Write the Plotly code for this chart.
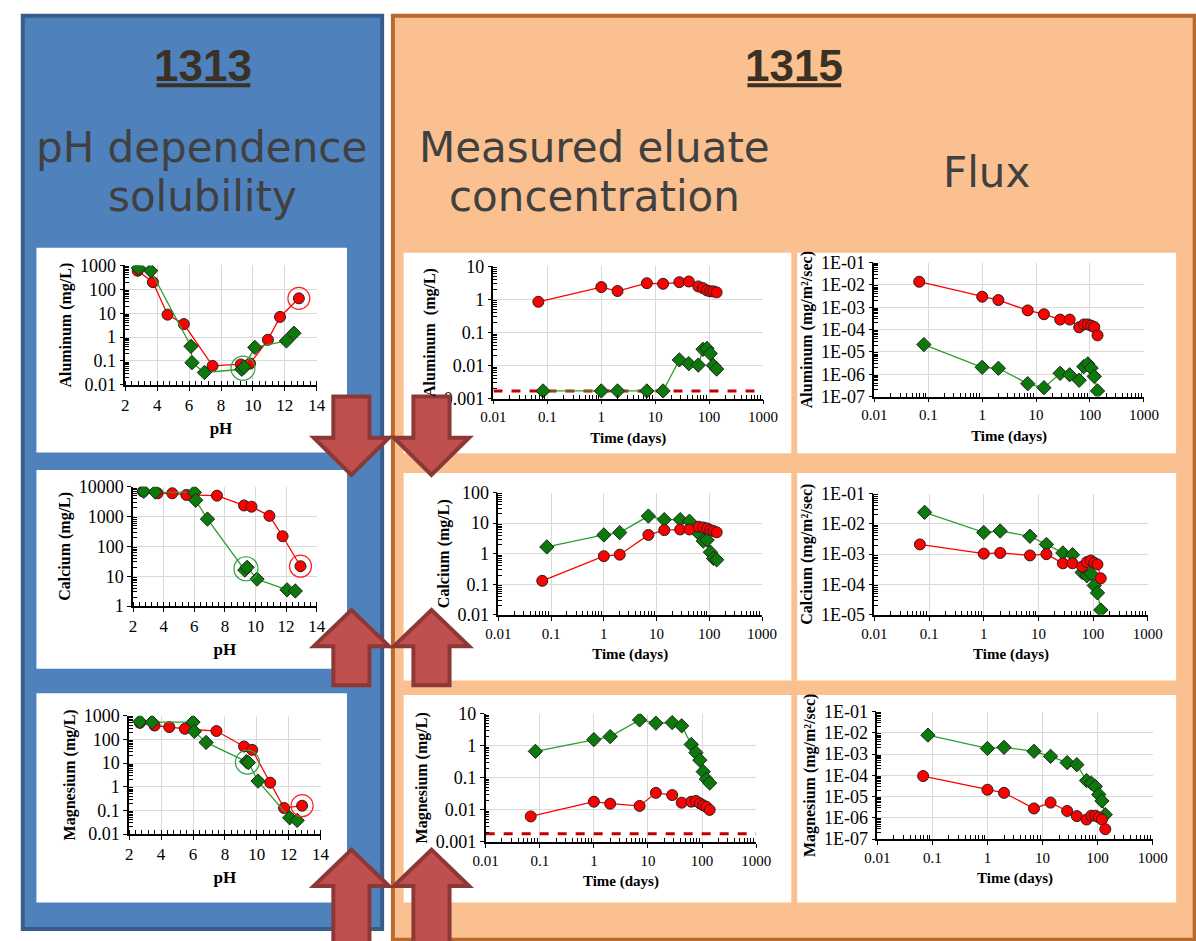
import plotly.graph_objects as go

W, H = 1196, 941

# ---------------- data ----------------
# 1313 : pH dependence (left column)
al_ph_red = [2.78, 3.73, 4.65, 5.67, 7.47, 9.24, 9.82, 10.94, 11.7, 12.88]
al_red = [600, 200, 8.7, 3.5, 0.062, 0.072, 0.078, 0.77, 7, 42]
al_ph_green = [2.82, 3.59, 6.12, 6.18, 6.96, 9.3, 9.45, 10.12, 12.1, 12.57]
al_green = [780, 600, 0.41, 0.085, 0.033, 0.045, 0.055, 0.37, 0.69, 1.45]

ca_ph_red = [2.64, 3.6, 4.56, 5.48, 7.48, 9.25, 9.74, 10.91, 11.77, 12.94]
ca_red = [6900, 6000, 6000, 5300, 5000, 2340, 2130, 1050, 218, 21.6]
ca_ph_green = [2.7, 3.45, 6.0, 6.09, 6.86, 9.3, 9.45, 10.1, 12.06, 12.6]
ca_green = [6900, 6600, 6400, 3500, 820, 16, 19.8, 8, 3.5, 3.2]

mg_ph_red = [2.67, 3.59, 4.51, 5.49, 7.47, 9.2, 9.71, 10.84, 11.71, 12.84]
mg_red = [500, 385, 330, 280, 225, 50, 36, 1.48, 0.126, 0.158]
mg_ph_green = [2.67, 3.43, 6.0, 6.08, 6.82, 9.35, 9.47, 10.08, 12.06, 12.53]
mg_green = [560, 530, 530, 217, 74, 11.6, 10.5, 1.73, 0.049, 0.038]

# 1315 : time series (days)
t_red = [0.068, 1, 2, 7, 14, 28, 42, 63, 77, 91, 105, 120, 138]
t_green = [0.083, 1, 2, 7, 14, 28, 42, 63, 77, 91, 105, 120, 138]

al_conc_red = [0.85, 2.37, 1.8, 3.1, 2.98, 3.34, 3.5, 2.48, 2.2, 1.88, 1.76, 1.76, 1.64]
al_conc_green = [0.0017, 0.0017, 0.0017, 0.0017, 0.0017, 0.0148, 0.0114, 0.0103, 0.031, 0.033, 0.023, 0.0101, 0.0078]
al_dl = 0.0017

ca_conc_red = [0.13, 0.83, 0.93, 4.1, 5.9, 6.2, 6.2, 7.6, 7.2, 6.7, 5.9, 5.5, 5.0]
ca_conc_green = [1.66, 4.1, 4.9, 17, 13, 13, 11.5, 4.6, 2.6, 2.8, 1.12, 0.70, 0.63]

mg_conc_red = [0.00625, 0.018, 0.0156, 0.0133, 0.034, 0.029, 0.0168, 0.018, 0.019, 0.016, 0.0139, 0.0125, 0.010]
mg_conc_green = [0.67, 1.56, 1.93, 6.4, 5.06, 5.3, 4.2, 1.1, 0.61, 0.356, 0.156, 0.091, 0.069]
mg_dl = 0.0018

al_flux_red = [1.38e-2, 2.95e-3, 2.1e-3, 7.2e-4, 4.85e-4, 2.8e-4, 2.8e-4, 1.26e-4, 1.7e-4, 1.7e-4, 1.5e-4, 1.3e-4, 5.5e-5]
al_flux_green = [2.14e-5, 2.05e-6, 1.85e-6, 3.8e-7, 2.5e-7, 1.1e-6, 9.5e-7, 5.4e-7, 2.2e-6, 2.9e-6, 1.9e-6, 8e-7, 1.8e-7]
ca_flux_red = [2.1e-3, 1.04e-3, 1.1e-3, 9.1e-4, 1.0e-3, 5e-4, 5e-4, 3.9e-4, 5.5e-4, 6.2e-4, 5.2e-4, 4.6e-4, 1.6e-4]
ca_flux_green = [2.4e-2, 5.2e-3, 5.8e-3, 3.9e-3, 2.1e-3, 1.1e-3, 9.6e-4, 2.5e-4, 1.95e-4, 2.3e-4, 9.3e-5, 5.3e-5, 1.45e-5]
mg_flux_red = [9.3e-5, 2.1e-5, 1.5e-5, 2.75e-6, 5.2e-6, 2.1e-6, 1.2e-6, 8.3e-7, 1.26e-6, 1.26e-6, 1.05e-6, 8.3e-7, 2.9e-7]
mg_flux_green = [7.9e-3, 1.86e-3, 2.1e-3, 1.36e-3, 7.9e-4, 4e-4, 3.2e-4, 5.7e-5, 4.3e-5, 3e-5, 1.26e-5, 6.2e-6, 1.4e-6]

ph_ticks = [2, 4, 6, 8, 10, 12, 14]
time_ticks = [0.01, 0.1, 1, 10, 100, 1000]
time_labels = ["0.01", "0.1", "1", "10", "100", "1000"]

# ---------------- styling helpers ----------------
RED = "#FF0000"
GREEN_FILL = "#0B7A0B"
GREEN_LINE = "#2E9E2E"
SERIF = "Liberation Serif, Times New Roman, serif"
YTICKFONT = dict(family=SERIF, size=18, color="black")
PHTICKFONT = dict(family=SERIF, size=17, color="black")
TTICKFONT = dict(family=SERIF, size=15, color="black")


def tfont(size):
    return dict(family=SERIF, size=size, color="black", weight="bold")


def px(x):
    return x / W


def py(y):
    return 1 - y / H


def dec_labels(lo, hi):
    vals = [10.0 ** k for k in range(lo, hi + 1)]
    labs = ["0." + "0" * (-k - 1) + "1" if k < 0 else "1" + "0" * k for k in range(lo, hi + 1)]
    return vals, labs


def sci_labels(lo, hi):
    return [10.0 ** k for k in range(lo, hi + 1)], ["1E-%02d" % (-k) for k in range(lo, hi + 1)]


def minor_log(lo, hi):
    return [m * 10.0 ** k for k in range(lo, hi) for m in range(2, 10)]


fig = go.Figure()

# plot-area boxes (x0, x1, y_top, y_bottom) in page pixels
charts = [
    dict(box=(115, 311, 261, 383), xt="lin", yr=(-2, 3), ylab="dec", yt="Aluminum (mg/L)", xtitle="pH"),
    dict(box=(123, 311, 487, 609), xt="lin", yr=(0, 4), ylab="dec", yt="Calcium (mg/L)", xtitle="pH"),
    dict(box=(119, 315, 721, 842), xt="lin", yr=(-2, 3), ylab="dec", yt="Magnesium (mg/L)", xtitle="pH"),
    dict(box=(492, 768, 262, 397), xt="log", yr=(-3, 1), ylab="dec", yt="Aluminum  (mg/L)", xtitle="Time (days)"),
    dict(box=(497, 767, 493, 618), xt="log", yr=(-2, 2), ylab="dec", yt="Calcium (mg/L)", xtitle="Time (days)"),
    dict(box=(484, 761, 719, 850), xt="log", yr=(-3, 1), ylab="dec", yt="Magnesium (mg/L)", xtitle="Time (days)"),
    dict(box=(882, 1158, 258, 395), xt="log", yr=(-7, -1), ylab="sci", yt="Aluminum (mg/m²/sec)", xtitle="Time (days)"),
    dict(box=(882, 1162, 494, 618), xt="log", yr=(-5, -1), ylab="sci", yt="Calcium (mg/m²/sec)", xtitle="Time (days)"),
    dict(box=(885, 1167, 717, 847), xt="log", yr=(-7, -1), ylab="sci", yt="Magnesium (mg/m²/sec)", xtitle="Time (days)"),
]

layout_axes = {}
for i, c in enumerate(charts):
    n = "" if i == 0 else str(i + 1)
    x0, x1, yt_, yb_ = c["box"]
    if c["xt"] == "lin":
        xa = dict(type="linear", range=[2, 14], tickmode="array", tickvals=ph_ticks, tickfont=PHTICKFONT,
                  minor=dict(ticks="inside", ticklen=4, dtick=0.4, tick0=2, tickcolor="black", showgrid=False),
                  title=dict(text="<b>%s</b>" % c["xtitle"], font=tfont(17), standoff=8))
    else:
        xa = dict(type="log", range=[-2, 3], tickmode="array", tickvals=time_ticks, ticktext=time_labels,
                  tickfont=TTICKFONT,
                  minor=dict(ticks="inside", ticklen=4, tickmode="array", tickvals=minor_log(-2, 3),
                             tickcolor="black", showgrid=False),
                  title=dict(text="<b>%s</b>" % c["xtitle"], font=tfont(15), standoff=8))
    xa.update(domain=[px(x0), px(x1)], anchor="y" + n, showgrid=True, gridcolor="#D9D9D9", gridwidth=1.3,
              showline=True, linecolor="black", linewidth=1.5, ticks="outside", ticklen=4, tickcolor="black",
              zeroline=False, fixedrange=True)
    lo, hi = c["yr"]
    vals, labs = dec_labels(lo, hi) if c["ylab"] == "dec" else sci_labels(lo, hi)
    ya = dict(type="log", range=[lo, hi], tickmode="array", tickvals=vals, ticktext=labs,
              minor=dict(ticks="inside", ticklen=4, tickmode="array", tickvals=minor_log(lo, hi),
                         tickcolor="black", showgrid=False),
              domain=[py(yb_), py(yt_)], anchor="x" + n, showgrid=True, gridcolor="#D9D9D9", gridwidth=1.3,
              showline=True, linecolor="black", linewidth=1.5, ticks="outside", ticklen=4, tickcolor="black",
              tickfont=YTICKFONT, zeroline=False, fixedrange=True,
              title=dict(text="<b>%s</b>" % c["yt"], font=tfont(16), standoff=4))
    layout_axes["xaxis" + n] = xa
    layout_axes["yaxis" + n] = ya


def add_series(idx, x, y, kind):
    n = "" if idx == 0 else str(idx + 1)
    if kind == "red":
        line, sym, fill = dict(color=RED, width=1.3), "circle", RED
    else:
        line, sym, fill = dict(color=GREEN_LINE, width=1.3), "diamond", GREEN_FILL
    fig.add_trace(go.Scatter(x=x, y=y, mode="lines+markers", xaxis="x" + n, yaxis="y" + n, line=line,
                             marker=dict(symbol=sym, size=11, color=fill, line=dict(color="#222", width=1)),
                             showlegend=False, hoverinfo="skip"))


def add_ring(idx, x, y, color, size):
    n = "" if idx == 0 else str(idx + 1)
    fig.add_trace(go.Scatter(x=[x], y=[y], mode="markers", xaxis="x" + n, yaxis="y" + n,
                             marker=dict(symbol="circle-open", size=size, color=color, line=dict(color=color, width=1.2)),
                             showlegend=False, hoverinfo="skip"))


def add_dl(idx, val):
    n = "" if idx == 0 else str(idx + 1)
    fig.add_trace(go.Scatter(x=[time_ticks[0], time_ticks[-1]], y=[val, val], mode="lines",
                             xaxis="x" + n, yaxis="y" + n, line=dict(color="#C00000", width=3, dash="dash"),
                             showlegend=False, hoverinfo="skip"))


# left column
add_series(0, al_ph_red, al_red, "red")
add_series(0, al_ph_green, al_green, "green")
add_ring(0, al_ph_red[-1], al_red[-1], "#FF2020", 22)
add_ring(0, (al_ph_green[5] + al_ph_green[6]) / 2, (al_green[5] * al_green[6]) ** 0.5, "#2EA040", 24)
add_series(1, ca_ph_red, ca_red, "red")
add_series(1, ca_ph_green, ca_green, "green")
add_ring(1, ca_ph_red[-1], ca_red[-1], "#FF2020", 22)
add_ring(1, (ca_ph_green[5] + ca_ph_green[6]) / 2, (ca_green[5] * ca_green[6]) ** 0.5, "#2EA040", 24)
add_series(2, mg_ph_red, mg_red, "red")
add_series(2, mg_ph_green, mg_green, "green")
add_ring(2, mg_ph_red[-1], mg_red[-1], "#FF2020", 22)
add_ring(2, (mg_ph_green[5] + mg_ph_green[6]) / 2, (mg_green[5] * mg_green[6]) ** 0.5, "#2EA040", 24)

# middle column
add_dl(3, al_dl)
add_series(3, t_green, al_conc_green, "green")
add_series(3, t_red, al_conc_red, "red")
add_series(4, t_green, ca_conc_green, "green")
add_series(4, t_red, ca_conc_red, "red")
add_dl(5, mg_dl)
add_series(5, t_green, mg_conc_green, "green")
add_series(5, t_red, mg_conc_red, "red")

# right column
add_series(6, t_green, al_flux_green, "green")
add_series(6, t_red, al_flux_red, "red")
add_series(7, t_green, ca_flux_green, "green")
add_series(7, t_red, ca_flux_red, "red")
add_series(8, t_green, mg_flux_green, "green")
add_series(8, t_red, mg_flux_red, "red")

# ---------------- background decoration ----------------
shapes = []


def rect(x0, y0, x1, y1, fill, line=None, lw=0, layer="below"):
    shapes.append(dict(type="rect", xref="paper", yref="paper", x0=px(x0), x1=px(x1), y0=py(y1), y1=py(y0),
                       fillcolor=fill, line=dict(color=line or fill, width=lw), layer=layer))


rect(10, 6, 378, 939, "#4F81BD", "#385D8A", 4)
rect(389, 6, 1210, 950, "#FAC090", "#B8692E", 4)
for (y0, y1) in [(243, 452), (470, 673), (698, 912)]:
    rect(24, y0, 342, y1, "white")
for (y0, y1) in [(248, 453), (473, 685), (700, 912)]:
    rect(400, y0, 797, y1, "white")
    rect(803, y0, 1191, y1, "white")


def arrow_path(cx, tip, base, end):
    hw, sw = 38.5, 18.5
    pts = [(cx, tip), (cx + hw, base), (cx + sw, base), (cx + sw, end),
           (cx - sw, end), (cx - sw, base), (cx - hw, base)]
    return "M " + " L ".join("%.5f,%.5f" % (px(x), py(y)) for x, y in pts) + " Z"


for cx in (346.5, 428.5):
    for (tip, base, end) in [(475, 437, 395), (613, 650, 690), (858, 895, 960)]:
        shapes.append(dict(type="path", xref="paper", yref="paper", path=arrow_path(cx, tip, base, end),
                           fillcolor="#C0504D", line=dict(color="#8C3836", width=4), layer="above"))

shapes.append(dict(type="line", xref="paper", yref="paper", x0=px(147), x1=px(243), y0=py(77), y1=py(77),
                   line=dict(color="#3B3024", width=4)))
shapes.append(dict(type="line", xref="paper", yref="paper", x0=px(752), x1=px(848), y0=py(77), y1=py(77),
                   line=dict(color="#3B3024", width=4)))

HEAD = dict(family="Liberation Sans, Arial, sans-serif", size=44, color="#3B3024", weight="bold")
SUB = dict(family="DejaVu Sans, Noto Sans, sans-serif", size=42, color="#404040")

annotations = [
    dict(text="1313", x=px(195), y=py(57), font=HEAD),
    dict(text="1315", x=px(800), y=py(57), font=HEAD),
    dict(text="pH dependence", x=px(193), y=py(140), font=SUB),
    dict(text="solubility", x=px(194), y=py(191), font=SUB),
    dict(text="Measured eluate", x=px(595), y=py(140), font=SUB),
    dict(text="concentration", x=px(595), y=py(191), font=SUB),
    dict(text="Flux", x=px(997), y=py(166), font=SUB),
]
for a in annotations:
    a.update(xref="paper", yref="paper", showarrow=False, xanchor="center", yanchor="middle")

fig.update_layout(width=W, height=H, margin=dict(l=0, r=0, t=0, b=0), paper_bgcolor="white",
                  plot_bgcolor="rgba(0,0,0,0)", shapes=shapes, annotations=annotations, showlegend=False,
                  **layout_axes)

fig.write_html("out.html", config={"displayModeBar": False})
